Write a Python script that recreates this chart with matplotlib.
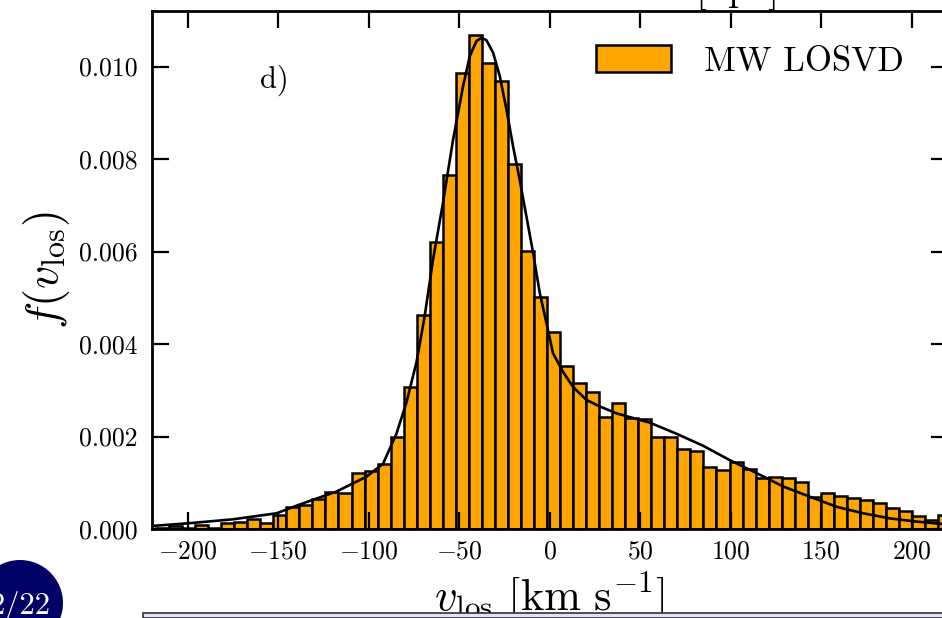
import numpy as np
import matplotlib
matplotlib.use('Agg')
import matplotlib.pyplot as plt
from matplotlib.patches import Ellipse, Rectangle

plt.rcParams['font.family'] = 'serif'
plt.rcParams['font.serif'] = ['cmr10']
plt.rcParams['mathtext.fontset'] = 'cm'
plt.rcParams['axes.formatter.use_mathtext'] = True

# histogram of line-of-sight velocities (normalised)
bin_left = -217.5
bin_width = 7.2
heights = [0.00003, 0.00006, 0.00003, 0.00008, 0.00003, 0.00012, 0.00016, 0.00022,
           0.00014, 0.00030, 0.00048, 0.00052, 0.00064, 0.00079, 0.00077, 0.00122,
           0.00126, 0.00140, 0.00200, 0.00308, 0.00462, 0.00620, 0.00765, 0.00985,
           0.01069, 0.01008, 0.00968, 0.00789, 0.00602, 0.00501, 0.00427, 0.00353,
           0.00315, 0.00296, 0.00243, 0.00273, 0.00240, 0.00238, 0.00200, 0.00200,
           0.00173, 0.00169, 0.00134, 0.00127, 0.00144, 0.00129, 0.00111, 0.00113,
           0.00111, 0.00102, 0.00070, 0.00078, 0.00071, 0.00066, 0.00063, 0.00057,
           0.00046, 0.00039, 0.00028, 0.00019, 0.00030]

# model curve
curve_v = [-220.1, -199.8, -174.9, -150.9, -138.1, -117.8, -101.3, -92.1, -84.7, -79.2,
           -73.6, -69.1, -64.5, -59.0, -53.4, -47.9, -44.2, -40.5, -37.7, -35.0,
           -31.3, -27.6, -23.9, -20.3, -16.6, -12.9, -9.2, -5.5, -1.8, 1.8,
           7.3, 12.9, 20.3, 27.6, 36.9, 55.2, 70.0, 84.7, 99.4, 114.2,
           128.9, 143.6, 158.4, 173.1, 187.8, 202.6, 216.6, 221.0]
curve_f = [0.000065, 0.000123, 0.00021, 0.00034, 0.00053, 0.00081, 0.00113, 0.00141, 0.00206, 0.00273,
           0.00361, 0.0046, 0.00582, 0.00705, 0.00842, 0.00957, 0.01022, 0.01055, 0.01062, 0.01057,
           0.0103, 0.00979, 0.00907, 0.00828, 0.00755, 0.00676, 0.00597, 0.0051, 0.00445, 0.0038,
           0.0034, 0.00307, 0.00279, 0.00265, 0.0025, 0.0023, 0.00206, 0.0018, 0.00149, 0.00121,
           0.00092, 0.0007, 0.00048, 0.00034, 0.00023, 0.00016, 0.00011, 0.0001]

edges = bin_left + bin_width * np.arange(len(heights) + 1)

W, H = 942, 618
fig = plt.figure(figsize=(W / 100, H / 100), dpi=100)
ax = fig.add_axes([151.5 / W, (H - 529) / H, (948 - 151.5) / W, 518 / H])

ax.bar(edges[:-1], heights, width=bin_width, align='edge', color='#FFA500',
       edgecolor='black', linewidth=1.8, label='MW LOSVD')
ax.plot(curve_v, curve_f, color='black', lw=1.9)

ax.set_xlim(-220, 220)
ax.set_ylim(0, 0.0112)
ax.set_xticks([-200, -150, -100, -50, 0, 50, 100, 150, 200])
ax.set_yticks([0.000, 0.002, 0.004, 0.006, 0.008, 0.010])
ax.yaxis.set_major_formatter(matplotlib.ticker.FormatStrFormatter('%.3f'))
ax.tick_params(direction='in', length=12, width=1.6, labelsize=18.5,
               top=True, right=True, pad=8)
ax.tick_params(axis='y', pad=10)
for s in ax.spines.values():
    s.set_linewidth(2)

ax.set_xlabel(r'$v_{\rm los}\ [\mathrm{km\ s}^{-1}]$', fontsize=32, labelpad=5)
ax.set_ylabel(r'$f(v_{\rm los})$', fontsize=33, labelpad=5)

ax.text(0.136, 0.867, 'd)', transform=ax.transAxes, fontsize=22,
        ha='left', va='center')
ax.legend(loc='upper right', bbox_to_anchor=(0.944, 0.934), frameon=False,
          fontsize=25, handlelength=2.15, handleheight=0.8, handletextpad=0.95,
          borderpad=0, borderaxespad=0)

# slide leftovers: title of the panel above, page badge, box at the bottom
fig.text(736 / W, 1.0, r'$[\mathrm{kpc}]$', fontsize=29, ha='center', va='baseline')
fig.add_artist(Rectangle((143 / W, 0), 1.0, 5 / H, transform=fig.transFigure,
                         facecolor='#E0E0F8', edgecolor='#333333', lw=1.2))
fig.add_artist(Ellipse((20 / W, (H - 603) / H), 86 / W, 86 / H,
                       transform=fig.transFigure, facecolor='#000066', edgecolor='none'))
fig.text(20 / W, (H - 614) / H, '2/22', color='white', fontsize=22,
         ha='center', va='baseline')

fig.savefig('out.png', dpi=100)
